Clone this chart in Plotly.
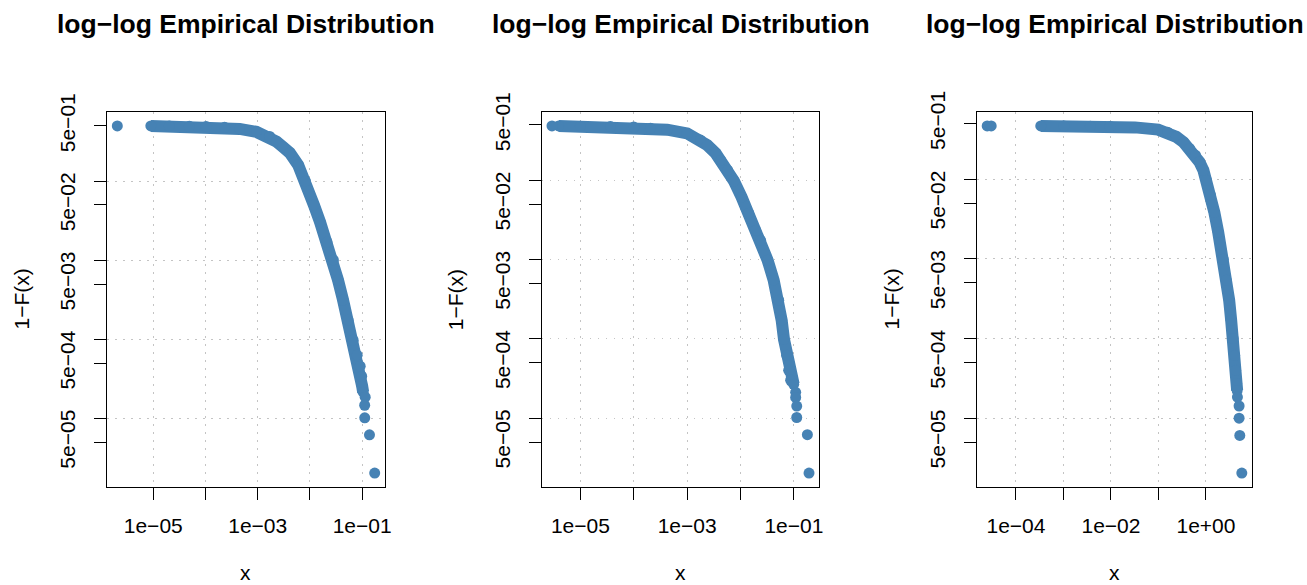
import numpy as np
import plotly.graph_objects as go

# ---------------- data ----------------
# Panel 1
p1_iso_x = [2.05e-6]
p1_iso_y = [0.5]
p1_band_x = [9.0e-6, 2.03e-5, 4.92e-5, 1.03e-4, 2.32e-4, 4.51e-4, 9.44e-4, 1.70e-3, 2.29e-3,
             3.03e-3, 4.12e-3, 5.96e-3, 8.19e-3, 1.19e-2, 1.56e-2, 2.12e-2, 2.81e-2, 3.45e-2,
             4.31e-2, 5.38e-2, 6.72e-2, 8.02e-2, 9.16e-2, 9.78e-2, 0.100, 0.1045]
p1_band_y = [0.5, 0.499, 0.493, 0.490, 0.479, 0.458, 0.420, 0.368, 0.316, 0.271, 0.228, 0.160,
             0.100, 0.050, 0.0305, 0.0170, 0.0101, 5.62e-3, 3.14e-3, 1.75e-3, 9.77e-4, 6.31e-4,
             4.58e-4, 3.42e-4, 2.56e-4, 2.15e-4]
p1_tail_x = [0.1143, 0.1117, 0.112, 0.138, 0.1738]
p1_tail_y = [1.86e-4, 1.47e-4, 1.02e-4, 6.22e-5, 2.04e-5]

# Panel 2
p2_iso_x = [2.94e-6]
p2_iso_y = [0.485]
p2_band_x = [3.92e-6, 1.0e-5, 3.66e-5, 1.0e-4, 2.06e-4, 4.23e-4, 1.0e-3, 1.78e-3, 2.38e-3,
             3.41e-3, 4.24e-3, 5.73e-3, 7.52e-3, 1.05e-2, 1.42e-2, 1.92e-2, 2.38e-2, 3.22e-2,
             4.18e-2, 5.19e-2, 5.90e-2, 6.52e-2, 7.32e-2, 7.98e-2, 8.70e-2, 9.91e-2]
p2_band_y = [0.485, 0.481, 0.475, 0.468, 0.454, 0.435, 0.390, 0.321, 0.277, 0.220, 0.179, 0.134,
             0.098, 0.0612, 0.0385, 0.0234, 0.0175, 9.82e-3, 5.49e-3, 3.07e-3, 1.72e-3, 9.89e-4,
             6.21e-4, 4.02e-4, 3.01e-4, 2.67e-4]
p2_tail_x = [0.108, 0.108, 0.113, 0.113, 0.179, 0.192]
p2_tail_y = [2.12e-4, 1.83e-4, 1.42e-4, 1.02e-4, 6.19e-5, 2.03e-5]

# Panel 3
p3_iso_x = [2.48e-5, 3.01e-5]
p3_iso_y = [0.467, 0.467]
p3_band_x = [3.33e-4, 1.02e-3, 3.68e-3, 9.62e-3, 3.20e-2, 9.81e-2, 0.156, 0.238, 0.337, 0.450,
             0.601, 0.728, 0.883, 1.02, 1.24, 1.50, 1.81, 2.31, 2.67, 3.08, 3.39, 3.73, 4.01,
             4.21, 4.42, 4.53]
p3_band_y = [0.467, 0.466, 0.463, 0.459, 0.447, 0.420, 0.389, 0.340, 0.291, 0.243, 0.200, 0.165,
             0.1295, 0.097, 0.0629, 0.0384, 0.0216, 9.86e-3, 5.37e-3, 3.01e-3, 1.69e-3, 9.96e-4,
             6.14e-4, 3.98e-4, 2.73e-4, 2.23e-4]
p3_tail_x = [4.59, 4.98, 4.98, 5.15, 5.68]
p3_tail_y = [1.84e-4, 1.42e-4, 1.0e-4, 6.07e-5, 2.04e-5]

# Tick labels
x_ticks_12 = [1e-5, 1e-4, 1e-3, 1e-2, 1e-1]
x_text_12 = ["1e\u221205", "", "1e\u221203", "", "1e\u221201"]
x_ticks_3 = [1e-4, 1e-3, 1e-2, 1e-1, 1e0]
x_text_3 = ["1e\u221204", "", "1e\u221202", "", "1e+00"]
y_ticks = [5e-1, 5e-2, 5e-3, 5e-4, 5e-5]
y_text = ["5e\u221201", "5e\u221202", "5e\u221203", "5e\u221204", "5e\u221205"]
y_minor_ticks = [1e-1, 1e-2, 1e-3, 1e-4]

title_text = "log\u2212log Empirical Distribution"
xlab = "x"
ylab = "1\u2212F(x)"

# ---------------- figure ----------------
W, H = 1307, 585
COLOR = "#4682B4"
GRID = "#c4c4c4"
FONT = "Liberation Sans, Arial, Helvetica, sans-serif"
MS = 11
LW = 12

panels = [
    (p1_iso_x, p1_iso_y, p1_band_x, p1_band_y, p1_tail_x, p1_tail_y, x_ticks_12, x_text_12),
    (p2_iso_x, p2_iso_y, p2_band_x, p2_band_y, p2_tail_x, p2_tail_y, x_ticks_12, x_text_12),
    (p3_iso_x, p3_iso_y, p3_band_x, p3_band_y, p3_tail_x, p3_tail_y, x_ticks_3, x_text_3),
]
x_px = [(107, 385), (541.7, 819.3), (977, 1252)]
y_top, y_bot = 112, 487
ydom = [(H - y_bot) / H, (H - y_top) / H]

fig = go.Figure()
annotations = []
for i, (ix, iy, bx, by, tx, ty, xt, xtt) in enumerate(panels):
    n = "" if i == 0 else str(i + 1)
    xa, ya = "x" + n, "y" + n
    fig.add_trace(go.Scatter(x=bx, y=by, mode="lines+markers", xaxis=xa, yaxis=ya,
                             line=dict(color=COLOR, width=LW),
                             marker=dict(color=COLOR, size=MS, line=dict(width=0)),
                             showlegend=False, hoverinfo="skip"))
    fig.add_trace(go.Scatter(x=ix + tx, y=iy + ty, mode="markers", xaxis=xa, yaxis=ya,
                             marker=dict(color=COLOR, size=MS, line=dict(width=0)),
                             showlegend=False, hoverinfo="skip"))
    allx = np.log10(np.array(ix + bx + tx))
    ally = np.log10(np.array(iy + by + ty))
    px0, px1 = allx.min(), allx.max()
    py0, py1 = ally.min(), ally.max()
    dx, dy = 0.04 * (px1 - px0), 0.04 * (py1 - py0)
    xdom = [x_px[i][0] / W, x_px[i][1] / W]
    common = dict(showline=True, mirror=True, linecolor="black", linewidth=1.3,
                  ticks="outside", ticklen=12, tickwidth=1.3, tickcolor="black",
                  zeroline=False, tickfont=dict(family=FONT, size=21, color="black"),
                  type="log", automargin=False)
    fig.layout["xaxis" + n] = dict(
        domain=xdom, anchor=ya, range=[px0 - dx, px1 + dx],
        tickmode="array", tickvals=xt, ticktext=xtt,
        showgrid=True, gridcolor=GRID, gridwidth=1.2, griddash="1.5px,6.5px",
        ticklabelstandoff=8, **common)
    fig.layout["yaxis" + n] = dict(
        domain=ydom, anchor=xa, range=[py0 - dy, py1 + dy],
        tickmode="array", tickvals=y_ticks, ticktext=y_text, tickangle=-90,
        showgrid=False, ticklabelstandoff=10,
        minor=dict(tickmode="array", tickvals=y_minor_ticks, ticks="outside", ticklen=12,
                   tickwidth=1.3, tickcolor="black", showgrid=True, gridcolor=GRID,
                   gridwidth=1.2, griddash="1.5px,6.5px"),
        **common)
    cx = (x_px[i][0] + x_px[i][1]) / 2 / W
    annotations.append(dict(text=title_text, x=cx, y=(H - 24) / H, xref="paper", yref="paper",
                            xanchor="center", yanchor="middle", showarrow=False,
                            font=dict(family=FONT, size=26.5, color="black", weight="bold")))
    annotations.append(dict(text=xlab, x=cx, y=(H - 572) / H, xref="paper", yref="paper",
                            xanchor="center", yanchor="middle", showarrow=False,
                            font=dict(family=FONT, size=21, color="black")))
    annotations.append(dict(text=ylab, x=(x_px[i][0] - 86) / W, y=(H - 299.5) / H,
                            xref="paper", yref="paper", textangle=-90,
                            xanchor="center", yanchor="middle", showarrow=False,
                            font=dict(family=FONT, size=21, color="black")))

fig.update_layout(width=W, height=H, margin=dict(l=0, r=0, t=0, b=0, autoexpand=False),
                  paper_bgcolor="white", plot_bgcolor="white",
                  annotations=annotations, font=dict(family=FONT))
fig.write_html("out.html")
